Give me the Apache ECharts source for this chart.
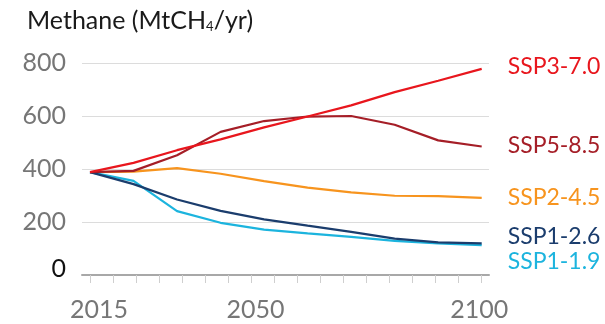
<!DOCTYPE html>
<html><head><meta charset="utf-8">
<script src="https://cdn.jsdelivr.net/npm/echarts@6/dist/echarts.min.js"></script>
<style>html,body{margin:0;padding:0;background:#fff}#c{width:605px;height:324px}</style>
</head><body><div id="c"></div>
<script>
const years = ['2015','2020','2030','2040','2050','2060','2070','2080','2090','2100'];
const ssp370 = [388,423,471,512,557,598,640,690,733,778];
const ssp585 = [388,393,452,540,581,598,600,567,508,485];
const ssp245 = [388,390,403,382,354,330,312,299,298,291];
const ssp126 = [388,343,285,242,210,186,163,137,123,119];
const ssp119 = [388,355,241,197,171,157,144,129,119,113];
const xTickYears = [2015,2020,2025,2030,2035,2040,2045,2050,2055,2060,2065,2070,2075,2080,2085,2090,2095,2100];
const xLabelYears = [2015,2050,2100];
const yTicks = [0,200,400,600,800];

const FONT = 'Lato';
const chart = echarts.init(document.getElementById('c'), null, {renderer:'canvas'});

function mk(name, data, color, dy, z) {
  return {
    name: name, type: 'line', xAxisIndex: 2, yAxisIndex: 1, data: data,
    symbol: 'none', z: z,
    lineStyle: {width: 2.2, color: color}, itemStyle: {color: color},
    endLabel: {show: true, formatter: '{a}', color: color, fontSize: 23, fontFamily: FONT,
      distance: 5, offset: [21, dy]},
    emphasis: {disabled: true}
  };
}

chart.setOption({
  animation: false,
  title: {
    text: 'Methane (MtCH{s|4}/yr)', left: 22, top: 3,
    textStyle: {fontFamily: FONT, fontSize: 25, fontWeight: 'normal', color: '#1a1a1a',
      rich: {s: {fontFamily: FONT, fontSize: 13, color: '#1a1a1a', verticalAlign: 'bottom', padding: [10,0,0,0]}}}
  },
  grid: [
    {left: 82, width: 407, top: 63, height: 212},
    {left: 90, width: 391.7, top: 63, height: 212}
  ],
  xAxis: [
    {gridIndex: 0, type: 'value', min: 2013.3, max: 2101.6, position: 'bottom',
      axisLine: {show: true, lineStyle: {color: '#a8a8a8', width: 2}},
      axisTick: {show: true, customValues: xTickYears, length: 8, lineStyle: {color: '#cfcfcf', width: 1}},
      axisLabel: {show: false}, splitLine: {show: false}},
    {gridIndex: 0, type: 'value', min: 2011.2, max: 2102.2, position: 'bottom',
      axisLine: {show: false}, axisTick: {show: false}, splitLine: {show: false},
      axisLabel: {show: true, customValues: xLabelYears, fontSize: 25, fontFamily: FONT, color: '#767676', margin: 22,
        formatter: v => String(v)}},
    {gridIndex: 1, type: 'category', data: years, boundaryGap: false, show: false}
  ],
  yAxis: [
    {gridIndex: 0, type: 'value', min: 0, max: 800, interval: 200,
      axisLine: {show: false}, axisTick: {show: false},
      splitLine: {show: true, lineStyle: {color: '#dcdcdc', width: 1}},
      axisLabel: {fontSize: 25, fontFamily: FONT, margin: 16, color: '#767676',
        formatter: v => v === 0 ? '{z|0}' : String(v),
        rich: {z: {fontSize: 25, fontFamily: FONT, color: '#111', padding: [0,0,12,0]}}}},
    {gridIndex: 1, type: 'value', min: 0, max: 800, show: false}
  ],
  series: [
    mk('SSP2-4.5', ssp245, '#f7941e', 0, 2),
    mk('SSP1-1.9', ssp119, '#1cb4de', 17, 3),
    mk('SSP1-2.6', ssp126, '#1b3d6d', -7, 4),
    mk('SSP5-8.5', ssp585, '#a51e27', -1, 5),
    mk('SSP3-7.0', ssp370, '#e8161d', -2, 6)
  ]
});
</script></body></html>
